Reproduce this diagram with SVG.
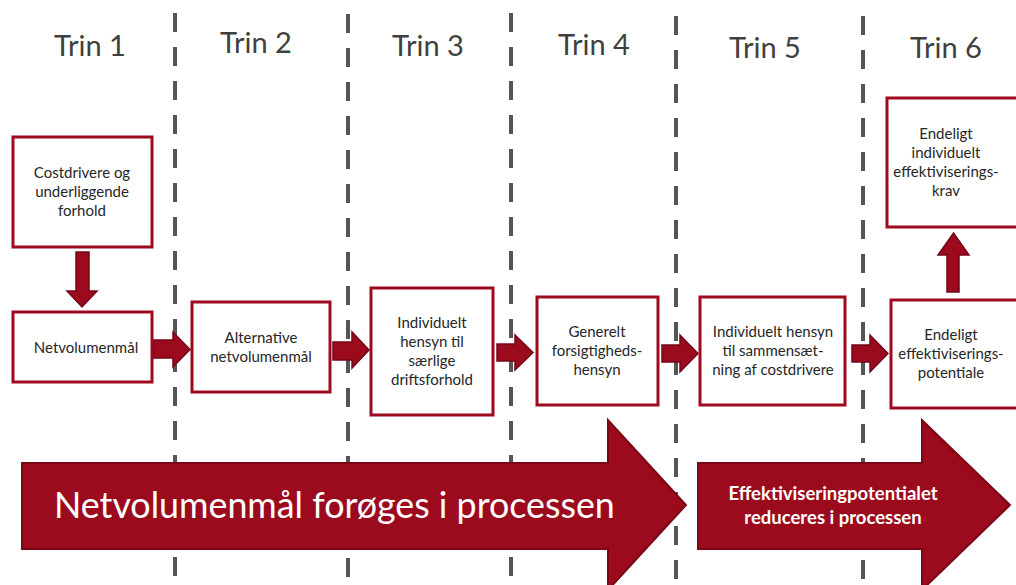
<svg xmlns="http://www.w3.org/2000/svg" width="1016" height="585" viewBox="0 0 1016 585">
<style>
.dash{stroke:#555;stroke-width:4;stroke-dasharray:19 15;fill:none}
.box{fill:#fff;stroke:#9e0b1f;stroke-width:3}
.arr{fill:#9c0a1e;stroke:#74061a;stroke-width:1.5}
.big{fill:#9c0a1e;stroke:#7a0716;stroke-width:2}
.hdr{font-family:Lato,"Open Sans",sans-serif;font-size:29px;fill:#404040;text-anchor:middle}
.t{font-family:Lato,"Open Sans",sans-serif;font-size:15px;fill:#262626;text-anchor:middle}
.w1{font-family:Lato,"Open Sans",sans-serif;font-size:35.8px;fill:#fff}
.w2{font-family:Lato,"Open Sans",sans-serif;font-size:18.5px;font-weight:bold;fill:#fff;text-anchor:middle}
</style>
<rect width="1016" height="585" fill="#fff"/>
<g id="dividers">
<line class="dash" x1="175" y1="13" x2="175" y2="585"/>
<line class="dash" x1="348" y1="14" x2="348" y2="585"/>
<line class="dash" x1="511" y1="13" x2="511" y2="585"/>
<line class="dash" x1="676" y1="16" x2="676" y2="585"/>
<line class="dash" x1="863" y1="16" x2="863" y2="585"/>
</g>
<g id="headers">
<text class="hdr" x="90" y="56">Trin 1</text>
<text class="hdr" x="256" y="53">Trin 2</text>
<text class="hdr" x="428" y="56">Trin 3</text>
<text class="hdr" x="594" y="55">Trin 4</text>
<text class="hdr" x="765" y="58">Trin 5</text>
<text class="hdr" x="946" y="58">Trin 6</text>
</g>
<g id="big-arrows">
<g id="arrow-increase">
<path class="big" d="M22,463 H608 V420 L686,505 L608,590 V549 H22 Z"/>
<text class="w1" x="54" y="518">Netvolumenmål forøges i processen</text>
</g>
<g id="arrow-reduce">
<path class="big" d="M698,463 H922 V420 L1010,505 L922,590 V549 H698 Z"/>
<text class="w2" x="833" y="500">Effektiviseringpotentialet</text>
<text class="w2" x="833" y="524">reduceres i processen</text>
</g>
</g>
<g id="connectors">
<path class="arr" d="M76,252 H89 V291 H97 L82,307 L67,291 H76 Z"/>
<path class="arr" d="M153,340 H173 V332 L190,349.5 L173,367 V358 H153 Z"/>
<path class="arr" d="M333,342 H352 V332 L369,350 L352,368 V360 H333 Z"/>
<path class="arr" d="M497,344 H515 V335 L533,352.5 L515,370 V361 H497 Z"/>
<path class="arr" d="M662,345 H680 V335 L698,353.5 L680,372 V362 H662 Z"/>
<path class="arr" d="M852,345 H870 V335 L888,353.5 L870,372 V362 H852 Z"/>
<path class="arr" d="M947,292 V255 H938 L953.5,233 L969,255 H959 V292 Z"/>
</g>
<g id="node-costdrivere">
<rect class="box" x="13" y="137" width="139" height="110"/>
<text class="t" x="82" y="178">Costdrivere og</text>
<text class="t" x="82" y="197">underliggende</text>
<text class="t" x="82" y="216">forhold</text>
</g>
<g id="node-netvolumenmaal">
<rect class="box" x="13" y="312" width="139" height="70"/>
<text class="t" x="86" y="353">Netvolumenmål</text>
</g>
<g id="node-alternative">
<rect class="box" x="192" y="302" width="138" height="90"/>
<text class="t" x="261" y="343">Alternative</text>
<text class="t" x="261" y="362">netvolumenmål</text>
</g>
<g id="node-driftsforhold">
<rect class="box" x="371" y="288" width="122" height="127"/>
<text class="t" x="432" y="328">Individuelt</text>
<text class="t" x="432" y="347">hensyn til</text>
<text class="t" x="432" y="366">særlige</text>
<text class="t" x="432" y="385">driftsforhold</text>
</g>
<g id="node-forsigtighed">
<rect class="box" x="537" y="297" width="121" height="108"/>
<text class="t" x="597" y="337">Generelt</text>
<text class="t" x="597" y="356">forsigtigheds-</text>
<text class="t" x="597" y="375">hensyn</text>
</g>
<g id="node-sammensaetning">
<rect class="box" x="700" y="297" width="145" height="108"/>
<text class="t" x="773" y="337">Individuelt hensyn</text>
<text class="t" x="773" y="356">til sammensæt-</text>
<text class="t" x="773" y="375">ning af costdrivere</text>
</g>
<g id="node-potentiale">
<rect class="box" x="891" y="300" width="135" height="108"/>
<text class="t" x="951" y="340">Endeligt</text>
<text class="t" x="951" y="359">effektiviserings-</text>
<text class="t" x="951" y="378">potentiale</text>
</g>
<g id="node-krav">
<rect class="box" x="887" y="98" width="139" height="129"/>
<text class="t" x="946" y="139">Endeligt</text>
<text class="t" x="946" y="158">individuelt</text>
<text class="t" x="946" y="177">effektiviserings-</text>
<text class="t" x="946" y="196">krav</text>
</g>
</svg>
